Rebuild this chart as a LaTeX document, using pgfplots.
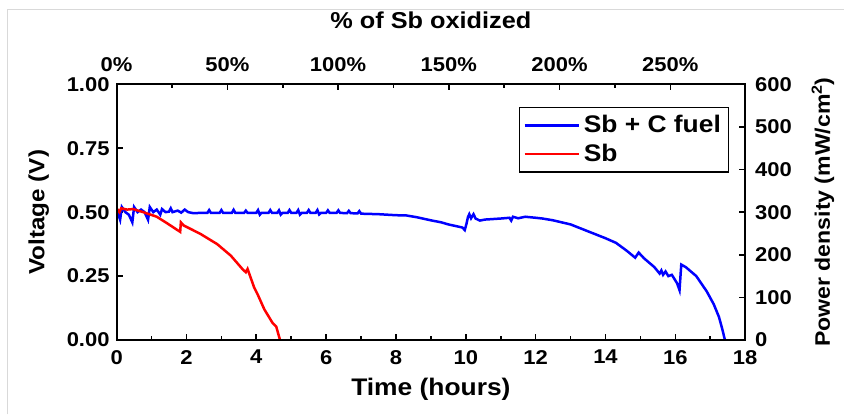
\documentclass[border=0pt]{standalone}
\usepackage{fontspec}
\setmainfont{Liberation Sans}[FakeStretch=1.1]
\usepackage{pgfplots}
\pgfplotsset{compat=1.18}

\pgfplotstableread{
t v
0.00 0.510
0.05 0.490
0.10 0.470
0.15 0.520
0.25 0.500
0.35 0.490
0.45 0.460
0.50 0.520
0.60 0.500
0.70 0.510
0.80 0.500
0.90 0.470
0.95 0.520
1.05 0.500
1.15 0.510
1.25 0.490
1.30 0.512
1.40 0.500
1.50 0.502
1.55 0.515
1.60 0.500
1.75 0.506
1.85 0.498
1.95 0.510
2.05 0.500
2.20 0.496
2.40 0.497
2.60 0.497
2.65 0.508
2.70 0.497
2.95 0.497
3.00 0.508
3.05 0.497
3.30 0.497
3.35 0.509
3.40 0.497
3.65 0.497
3.70 0.506
3.75 0.497
4.00 0.497
4.05 0.508
4.10 0.490
4.15 0.497
4.35 0.497
4.40 0.508
4.45 0.497
4.60 0.497
4.65 0.507
4.70 0.490
4.75 0.497
4.90 0.497
4.95 0.508
5.00 0.497
5.15 0.497
5.20 0.508
5.25 0.490
5.30 0.497
5.45 0.497
5.50 0.508
5.55 0.497
5.70 0.497
5.75 0.508
5.80 0.491
5.85 0.497
6.00 0.497
6.05 0.507
6.10 0.497
6.30 0.497
6.35 0.507
6.40 0.497
6.60 0.496
6.65 0.505
6.70 0.496
6.90 0.495
6.95 0.504
7.00 0.494
7.50 0.492
8.00 0.488
8.30 0.487
8.60 0.480
9.00 0.468
9.30 0.460
9.50 0.452
9.70 0.446
9.90 0.440
9.97 0.430
10.02 0.455
10.06 0.480
10.10 0.492
10.15 0.476
10.22 0.492
10.28 0.475
10.40 0.467
10.55 0.471
11.00 0.475
11.25 0.478
11.30 0.467
11.35 0.482
11.50 0.476
11.70 0.482
12.00 0.478
12.20 0.475
12.50 0.468
13.00 0.452
13.50 0.425
14.00 0.398
14.30 0.380
14.60 0.350
14.85 0.322
14.95 0.342
15.10 0.320
15.40 0.285
15.55 0.260
15.60 0.272
15.65 0.255
15.72 0.268
15.80 0.250
15.90 0.255
16.05 0.222
16.12 0.195
16.17 0.295
16.30 0.285
16.60 0.250
16.90 0.190
17.10 0.140
17.25 0.090
17.35 0.040
17.42 0.000
}\fuel

\pgfplotstableread{
t v
0.00 0.515
0.08 0.500
0.13 0.515
0.30 0.510
0.47 0.512
0.76 0.500
1.15 0.482
1.44 0.457
1.82 0.423
1.84 0.460
1.92 0.448
2.40 0.415
2.88 0.375
3.27 0.330
3.60 0.278
3.70 0.265
3.75 0.278
3.94 0.205
4.04 0.178
4.23 0.120
4.47 0.066
4.57 0.053
4.68 0.000
}\sb

\begin{document}
\begin{tikzpicture}
\pgfplotsset{
  every axis/.append style={
    width=314.5pt, height=128pt, scale only axis,
    axis line style={line width=0.9pt},
    tick style={line width=0.8pt, black},
    major tick length=3pt, minor tick length=1.8pt,
    tick label style={font=\fontsize{10}{11}\selectfont\bfseries},
    /pgf/number format/assume math mode=true,
    label style={font=\fontsize{12}{14}\selectfont\bfseries},
  },
}
\begin{axis}[
  name=ax,
  xmin=0, xmax=18, ymin=0, ymax=1,
  xtick={0,2,...,18}, minor x tick num=1,
  ytick={0,0.25,0.5,0.75,1},
  xtick pos=bottom, ytick pos=left,
  xticklabel style={yshift=-1.5pt},
  yticklabel style={/pgf/number format/.cd, fixed, fixed zerofill, precision=2},
  xlabel={Time (hours)},
  ylabel={Voltage (V)},
  ylabel style={font=\fontsize{11}{13}\selectfont\bfseries, yshift=2pt},
  legend style={at={(0.975,0.912)}, anchor=north east, draw=black, line width=0.6pt,
    font=\fontsize{12}{14}\selectfont\bfseries, cells={anchor=west}, inner sep=2pt},
  legend image code/.code={\draw[#1] (0pt,0pt) -- (27pt,0pt);},
]
\addplot[blue, line width=1.25pt] table[x=t, y=v] {\fuel};
\addplot[red, line width=1.25pt] table[x=t, y=v] {\sb};
\legend{Sb + C fuel, Sb}
\end{axis}
\begin{axis}[
  xmin=0, xmax=283.8, ymin=0, ymax=600,
  xtick={0,50,...,250}, minor x tick num=1,
  ytick={0,100,...,600},
  xtick pos=top, xticklabel pos=top,
  ytick pos=right, yticklabel pos=right,
  xticklabel={\pgfmathprintnumber{\tick}\%},
  xticklabel style={yshift=2.5pt},
  yticklabel style={xshift=1.5pt},
  xlabel={\% of Sb oxidized},
  xlabel style={font=\fontsize{11.5}{13}\selectfont\bfseries, yshift=8pt},
  ylabel={Power density (mW/cm$^{\mathbf{2}}$)},
  ylabel style={font=\fontsize{10.5}{12}\selectfont\bfseries, yshift=-3pt},
]
\end{axis}
\pgfresetboundingbox
\path ([xshift=-58.35pt,yshift=-37.15pt]ax.south west) rectangle ([xshift=49.65pt,yshift=42.15pt]ax.north east);
\draw[black!15, line width=0.6pt] ([xshift=-54.5pt,yshift=-37.15pt]ax.south west) -- ([xshift=-54.5pt,yshift=37.5pt]ax.north west) -- ([xshift=49.65pt,yshift=37.5pt]ax.north east);
\end{tikzpicture}
\end{document}
